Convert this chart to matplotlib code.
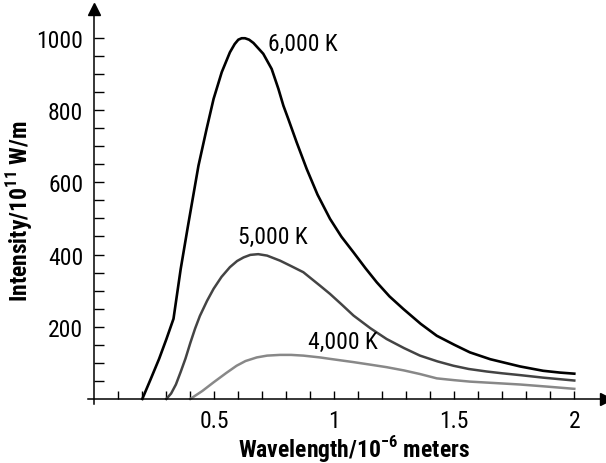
import matplotlib
matplotlib.use("Agg")
import matplotlib.pyplot as plt
from matplotlib import font_manager

# pick a narrow sans face if one is around, the reference uses a condensed font
tt = font_manager.fontManager.ttflist
names = {f.name for f in tt}
fam, stretch = None, "normal"
for cand in ["Liberation Sans Narrow", "Roboto Condensed", "Open Sans Condensed",
             "Arial Narrow", "DejaVu Sans Condensed"]:
    if cand in names:
        fam = cand
        break
if fam is None:
    cond = [f for f in tt if f.stretch in ("condensed", "semi-condensed", "extra-condensed")
            or (isinstance(f.stretch, int) and f.stretch <= 87)]
    if cond:
        fam, stretch = cond[0].name, "condensed"
    else:
        fam = "Roboto"

plt.rcParams['font.family'] = [fam, 'DejaVu Sans']
plt.rcParams['font.stretch'] = stretch
plt.rcParams['mathtext.fontset'] = 'custom'
plt.rcParams['mathtext.rm'] = f"{fam}:stretch={stretch}"
plt.rcParams['mathtext.bf'] = f"{fam}:weight=bold:stretch={stretch}"

# wavelength (10^-6 m) and intensity (10^11 W/m)
wl_6000 = [0.20, 0.235, 0.27, 0.30, 0.33, 0.36, 0.39, 0.434, 0.468, 0.497, 0.531, 0.565,
           0.585, 0.60, 0.614, 0.628, 0.645, 0.663, 0.704, 0.739, 0.767, 0.788, 0.808,
           0.843, 0.885, 0.93, 0.982, 1.03, 1.08, 1.13, 1.177, 1.23, 1.288, 1.36,
           1.427, 1.5, 1.565, 1.65, 1.774, 1.87, 1.94, 2.0]
i_6000 = [0, 55, 111, 165, 222, 360, 478, 646, 748, 831, 905, 960,
          983, 995, 999, 999, 995, 986, 956, 914, 859, 812, 776,
          711, 637, 566, 499, 449, 406, 362, 323, 284, 249, 208,
          175, 150, 129, 110, 90, 78, 73, 70]

wl_5000 = [0.30, 0.32, 0.34, 0.36, 0.38, 0.40, 0.42, 0.44, 0.47, 0.497, 0.53, 0.565,
           0.595, 0.622, 0.65, 0.683, 0.72, 0.774, 0.82, 0.871, 0.94, 0.982, 1.03,
           1.08, 1.15, 1.218, 1.29, 1.357, 1.43, 1.496, 1.56, 1.635, 1.70, 1.774,
           1.87, 2.0]
i_5000 = [0, 15, 40, 75, 112, 155, 195, 230, 272, 305, 338, 365,
          382, 392, 399, 401, 397, 383, 368, 351, 314, 291, 262,
          231, 196, 166, 141, 120, 104, 92, 83, 76, 71, 66,
          59, 51]

wl_4000 = [0.40, 0.45, 0.497, 0.55, 0.593, 0.63, 0.677, 0.72, 0.774, 0.82, 0.871,
           0.94, 0.982, 1.08, 1.15, 1.218, 1.29, 1.357, 1.427, 1.5, 1.565, 1.67,
           1.774, 1.89, 2.0]
i_4000 = [0, 22, 46, 72, 92, 105, 115, 120, 122, 122, 120,
          115, 111, 102, 95, 88, 79, 69, 57, 52, 48, 44,
          40, 34, 28]

curve_labels = ["6,000 K", "5,000 K", "4,000 K"]
x_ticks = [0.5, 1, 1.5, 2]
x_tick_labels = ["0.5", "1", "1.5", "2"]
y_ticks = [200, 400, 600, 800, 1000]

fig = plt.figure(figsize=(6.06, 4.64), dpi=100)
ax = fig.add_axes([88.3 / 606, 59 / 464, 517.2 / 606, 395 / 464])

ax.plot(wl_6000, i_6000, color="black", lw=1.9, solid_joinstyle="round")
ax.plot(wl_5000, i_5000, color="#444444", lw=1.8, solid_joinstyle="round")
ax.plot(wl_4000, i_4000, color="#888888", lw=1.8, solid_joinstyle="round")

ax.set_xlim(-0.025, 2.13)
ax.set_ylim(-14, 1080)

for s in ["top", "right"]:
    ax.spines[s].set_visible(False)
ax.spines["left"].set_position(("data", 0))
ax.spines["bottom"].set_position(("data", 0))
ax.spines["left"].set_linewidth(1.1)
ax.spines["bottom"].set_linewidth(1.1)

ax.set_xticks(x_ticks)
ax.set_xticklabels(x_tick_labels)
ax.set_xticks([k / 10 for k in range(1, 21)], minor=True)
ax.set_yticks(y_ticks)
ax.set_yticks(list(range(50, 1001, 50)), minor=True)

ax.tick_params(axis="x", which="both", direction="in", length=6, width=1, labelsize=17, pad=7)
ax.tick_params(axis="y", which="both", direction="in", length=7, width=1, labelsize=17, pad=8)

# arrow heads at axis ends
ax.plot(1, 0, marker=">", color="black", ms=9, transform=ax.get_yaxis_transform(), clip_on=False)
ax.plot(0, 1, marker="^", color="black", ms=9, transform=ax.get_xaxis_transform(), clip_on=False)

ax.text(0.725, 985, curve_labels[0], fontsize=17, ha="left", va="center")
ax.text(0.597, 449, curve_labels[1], fontsize=17, ha="left", va="center")
ax.text(0.89, 158, curve_labels[2], fontsize=17, ha="left", va="center")

fig.text(354 / 606, 1 - 450 / 464, r"Wavelength/10$^{\mathbf{-6}}$ meters",
         fontsize=17, fontweight="bold", ha="center", va="center")
fig.text(20 / 606, 1 - 211 / 464, r"Intensity/10$^{\mathbf{11}}$ W/m",
         fontsize=17, fontweight="bold", ha="center", va="center", rotation=90)

fig.savefig("out.png", dpi=100)
